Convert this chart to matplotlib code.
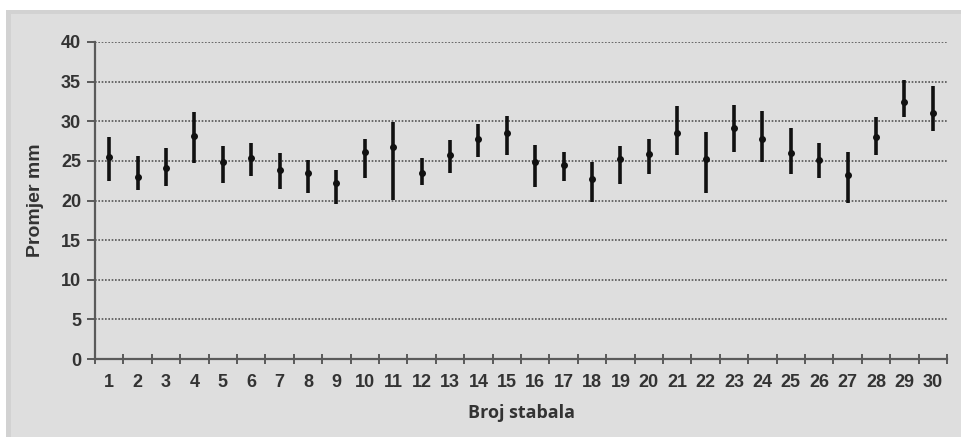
import matplotlib
matplotlib.use("Agg")

import numpy as np
import matplotlib.pyplot as plt
import matplotlib.patches as mpatches

plt.rcParams["font.family"] = ["Liberation Sans", "DejaVu Sans"]

# ── data ──
trees = list(range(1, 31))
mean_mm = [25.5, 23.0, 24.1, 28.2, 24.9, 25.3, 23.8, 23.5, 22.2, 26.1,
           26.8, 23.5, 25.8, 27.8, 28.5, 24.9, 24.5, 22.7, 25.2, 25.9,
           28.5, 25.2, 29.2, 27.8, 26.0, 25.1, 23.2, 28.0, 32.4, 31.0]
low_mm = [22.4, 21.3, 21.8, 24.7, 22.2, 23.1, 21.4, 21.0, 19.5, 22.9,
          20.1, 21.9, 23.5, 25.5, 25.7, 21.7, 22.5, 19.8, 22.1, 23.4,
          25.8, 21.0, 26.1, 24.9, 23.3, 22.9, 19.7, 25.8, 30.5, 28.8]
high_mm = [28.0, 25.6, 26.6, 31.2, 26.9, 27.3, 26.0, 25.1, 23.9, 27.8,
           29.9, 25.4, 27.6, 29.6, 30.6, 27.0, 26.1, 24.8, 26.9, 27.8,
           31.9, 28.7, 32.0, 31.3, 29.2, 27.2, 26.1, 30.5, 35.2, 34.5]
y_ticks = [0, 5, 10, 15, 20, 25, 30, 35, 40]

mean_arr = np.array(mean_mm)
yerr = [mean_arr - np.array(low_mm), np.array(high_mm) - mean_arr]

TXT = "#333333"
AXC = "#5a5a5a"

fig = plt.figure(figsize=(9.62, 4.37), dpi=100)
fig.patch.set_facecolor("white")

# gray panel behind the chart
fig.patches.append(mpatches.Rectangle((6 / 962, 0), 1, 1 - 10 / 437,
                                      transform=fig.transFigure,
                                      facecolor="#d2d2d2", edgecolor="none", zorder=-10))
fig.patches.append(mpatches.Rectangle((11 / 962, 0), 1, 1 - 14 / 437,
                                      transform=fig.transFigure,
                                      facecolor="#dedede", edgecolor="none", zorder=-9))

ax = fig.add_axes([95 / 962, 78 / 437, 852 / 962, 317 / 437])
ax.set_facecolor("none")
ax.set_zorder(1)

ax.errorbar(trees, mean_mm, yerr=yerr, fmt="o", color="#111111",
            ms=4, elinewidth=2.6, capsize=0, zorder=3)

ax.set_xlim(0.5, 30.5)
ax.set_ylim(0, 40)
ax.set_yticks(y_ticks)
ax.set_xticks(trees)
ax.set_xticks(np.arange(0.5, 31, 1), minor=True)

ax.yaxis.grid(True, linestyle=(0, (1.0, 1.0)), color="#555555", linewidth=1.2)
ax.set_axisbelow(True)

for s in ["top", "right"]:
    ax.spines[s].set_visible(False)
for s in ["left", "bottom"]:
    ax.spines[s].set_color(AXC)
    ax.spines[s].set_linewidth(1.6)

ax.tick_params(axis="x", which="major", length=0, pad=11,
               labelsize=13, labelcolor=TXT)
ax.tick_params(axis="x", which="minor", direction="inout", length=7,
               width=1.4, color=AXC)
ax.tick_params(axis="y", direction="out", length=6, width=1.4, color=AXC,
               pad=4, labelsize=13, labelcolor=TXT)
for lab in ax.get_xticklabels() + ax.get_yticklabels():
    lab.set_fontweight("bold")

ax.set_xlabel("Broj stabala", fontsize=13, fontweight="bold", color=TXT,
              family="Open Sans", labelpad=9)
ax.set_ylabel("Promjer mm", fontsize=14, fontweight="bold", color=TXT,
              labelpad=12)

fig.savefig("out.png", dpi=100)
plt.close(fig)
